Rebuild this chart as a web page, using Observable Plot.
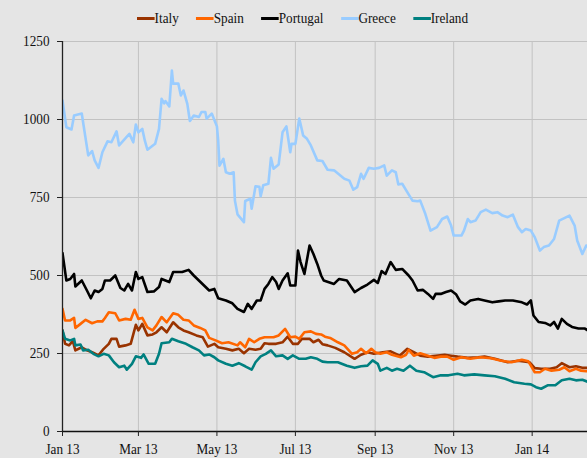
<!DOCTYPE html>
<html><head><meta charset="utf-8">
<script src="https://cdn.jsdelivr.net/npm/d3@7"></script>
<script src="https://cdn.jsdelivr.net/npm/@observablehq/plot@0.6"></script>
<style>
html,body{margin:0;padding:0;background:#e5e5e5;}
body{width:587px;height:458px;overflow:hidden;font-family:"Liberation Serif","Times New Roman",serif;}
#legendwrap{height:35px;position:relative;}
#legend{position:absolute;left:137px;top:0;height:36px;display:flex;align-items:center;gap:19.7px;font-size:15px;color:#111;transform:scaleX(0.88);transform-origin:0 0;white-space:nowrap;}
.item{display:flex;align-items:center;}
.sw{width:20px;height:3px;}
</style></head><body>
<div id="legendwrap"><div id="legend"></div></div>
<div id="chart"></div>
<script>
// Day offsets are days since 2013-01-01; values are spreads in basis points
const countries = ["Italy", "Spain", "Portugal", "Greece", "Ireland"];
const colors = ["#993300", "#ff6600", "#000000", "#99ccff", "#008080"];
const yTicks = [0, 250, 500, 750, 1000, 1250];
const xTickDates = ["2013-01-01","2013-03-01","2013-05-01","2013-07-01","2013-09-01","2013-11-01","2014-01-01"];
const xStart = "2013-01-01", xEnd = "2014-02-13";

const italy = [[0,324],[2,281],[5,276],[8,290],[10,260],[15,270],[19,260],[23,254],[28,244],[32,265],[36,281],[38,297],[42,297],[44,272],[49,276],[53,281],[57,342],[59,324],[62,345],[66,308],[70,311],[73,318],[77,334],[81,318],[86,350],[90,334],[94,324],[98,318],[104,308],[109,302],[113,272],[118,281],[121,270],[127,265],[132,260],[137,265],[141,251],[145,265],[150,262],[154,265],[157,283],[160,281],[166,281],[171,286],[175,304],[179,281],[183,281],[186,297],[192,297],[195,286],[199,294],[202,280],[206,276],[212,268],[219,254],[227,233],[232,246],[237,254],[242,249],[249,254],[255,257],[262,243],[268,265],[273,254],[278,243],[284,240],[290,243],[297,246],[302,243],[307,240],[315,236],[323,238],[328,240],[336,233],[346,222],[354,227],[363,222],[367,203],[372,201],[379,201],[384,206],[388,219],[394,206],[399,209],[404,204],[409,204]];
const spain = [[0,393],[2,356],[6,356],[9,364],[10,332],[14,345],[18,358],[23,347],[27,353],[31,353],[33,364],[36,382],[41,379],[44,356],[49,361],[53,358],[56,390],[59,361],[62,364],[66,334],[70,324],[73,340],[77,367],[81,350],[86,379],[90,374],[94,358],[98,356],[102,340],[107,332],[111,324],[114,300],[119,292],[124,283],[129,286],[136,276],[138,286],[142,270],[145,297],[149,286],[153,297],[157,302],[164,302],[168,308],[173,329],[177,302],[181,304],[184,297],[188,318],[193,321],[197,313],[201,311],[204,304],[208,300],[214,286],[219,276],[225,249],[229,254],[232,265],[236,251],[240,265],[243,254],[247,249],[252,254],[256,246],[263,238],[267,246],[269,262],[273,243],[278,251],[284,243],[289,236],[294,240],[299,240],[304,230],[310,238],[317,233],[325,238],[333,235],[341,227],[349,222],[357,230],[362,225],[364,211],[367,190],[371,190],[375,201],[380,195],[386,198],[390,206],[394,193],[399,201],[403,195],[407,193],[409,195]];
const portugal = [[0,572],[3,484],[6,489],[9,505],[10,465],[15,484],[19,452],[22,427],[25,452],[28,447],[31,457],[33,484],[37,484],[41,500],[45,460],[48,452],[51,473],[54,452],[57,511],[59,489],[62,495],[66,447],[71,449],[75,463],[77,489],[83,479],[86,511],[93,511],[98,518],[102,500],[106,484],[110,468],[114,452],[118,457],[121,427],[127,420],[132,411],[136,393],[141,383],[144,409],[147,393],[151,420],[154,420],[157,457],[160,473],[163,495],[166,479],[168,457],[171,484],[175,507],[177,468],[181,468],[183,580],[185,543],[188,505],[192,596],[195,569],[198,537],[201,500],[203,484],[211,473],[215,489],[221,484],[227,447],[232,460],[237,471],[242,486],[245,476],[248,514],[251,505],[255,543],[259,518],[264,521],[269,500],[272,484],[276,452],[280,454],[284,441],[288,425],[290,441],[294,441],[298,447],[302,452],[306,439],[309,417],[313,407],[317,420],[323,425],[328,420],[334,414],[339,417],[344,420],[350,420],[357,414],[361,407],[364,420],[366,372],[370,351],[375,348],[379,340],[382,351],[385,330],[388,361],[392,345],[396,335],[401,330],[406,330],[409,322]];
const greece = [[0,1061],[3,975],[7,968],[9,1013],[15,1019],[16,991],[20,885],[23,899],[25,869],[28,845],[31,895],[35,930],[38,927],[42,962],[44,917],[49,940],[52,954],[55,927],[57,984],[59,959],[62,970],[64,932],[66,903],[72,922],[75,970],[77,1066],[79,1052],[80,1059],[83,1042],[85,1157],[86,1115],[90,1115],[92,1077],[94,1093],[97,1050],[99,995],[102,1013],[106,1008],[108,1024],[111,1024],[112,1003],[116,1019],[120,978],[121,932],[122,852],[125,874],[127,831],[130,826],[133,831],[134,740],[136,696],[141,671],[142,739],[146,746],[147,714],[150,786],[153,784],[154,754],[156,789],[160,794],[162,877],[164,842],[168,856],[171,959],[174,978],[177,895],[178,922],[181,922],[184,1003],[187,949],[190,938],[193,917],[198,869],[202,867],[206,839],[211,837],[219,810],[223,804],[226,775],[229,783],[232,826],[234,810],[238,845],[242,842],[246,845],[250,853],[252,820],[256,837],[259,831],[261,792],[264,794],[269,760],[272,740],[276,738],[278,740],[282,697],[286,644],[291,655],[295,681],[299,689],[302,660],[304,628],[310,628],[312,644],[315,681],[317,671],[321,676],[325,703],[329,711],[334,700],[338,703],[342,692],[346,687],[350,695],[354,655],[357,639],[360,649],[364,644],[367,623],[371,580],[374,591],[378,596],[382,617],[386,676],[390,684],[394,692],[398,660],[400,612],[404,569],[407,596],[409,590]];
const ireland = [[0,324],[2,297],[6,292],[9,297],[10,276],[14,279],[16,260],[20,262],[24,249],[28,241],[32,249],[36,244],[40,222],[44,206],[48,211],[50,198],[54,217],[57,241],[61,236],[63,247],[67,217],[72,217],[75,249],[77,283],[83,286],[85,297],[90,289],[96,281],[101,270],[106,260],[110,244],[114,247],[118,238],[121,228],[127,217],[132,211],[137,219],[142,209],[147,198],[150,222],[154,241],[158,249],[162,260],[166,241],[171,244],[175,233],[179,244],[184,233],[189,233],[193,238],[198,233],[202,224],[206,222],[214,222],[221,211],[227,204],[232,209],[237,211],[241,228],[245,217],[247,195],[252,204],[256,195],[260,201],[265,195],[270,211],[275,195],[281,190],[288,174],[294,180],[300,180],[307,185],[312,180],[320,183],[328,180],[336,177],[344,169],[351,158],[359,153],[364,151],[368,142],[372,137],[377,148],[383,148],[388,164],[394,169],[399,164],[404,166],[409,158]];

const series = {Italy: italy, Spain: spain, Portugal: portugal, Greece: greece, Ireland: ireland};
const base = new Date(xStart + "T00:00:00Z");
const rows = [];
for (const c of countries) for (const [d, v] of series[c]) rows.push({country: c, date: d3.utcDay.offset(base, d), value: v});
const tickDates = xTickDates.map(s => new Date(s + "T00:00:00Z"));

const legend = document.getElementById("legend");
countries.forEach((c, i) => {
  const it = document.createElement("div"); it.className = "item";
  const sw = document.createElement("span"); sw.className = "sw"; sw.style.background = colors[i];
  const tx = document.createElement("span"); tx.textContent = c;
  it.appendChild(sw); it.appendChild(tx); legend.appendChild(it);
});

const serif = "Liberation Serif, Times New Roman, serif";
const chart = Plot.plot({
  width: 587, height: 423,
  marginTop: 6, marginBottom: 27, marginLeft: 62, marginRight: 0,
  style: {background: "transparent", fontSize: "15px", color: "#111", overflow: "visible"},
  x: {type: "utc", domain: [base, new Date(xEnd + "T00:00:00Z")]},
  y: {domain: [0, 1250]},
  color: {domain: countries, range: colors},
  marks: [
    Plot.gridX(tickDates, {stroke: "#c2c2c2", strokeOpacity: 1, strokeWidth: 1}),
    Plot.gridY(yTicks, {stroke: "#c2c2c2", strokeOpacity: 1, strokeWidth: 1}),
    Plot.line(rows, {x: "date", y: "value", z: "country", stroke: "country", strokeWidth: 2.6, clip: true, curve: "linear"}),
    Plot.ruleX([base], {y1: 0, y2: 1250, stroke: "#222", strokeWidth: 1.3}),
    Plot.ruleY([0], {stroke: "#111", strokeWidth: 1.3}),
    Plot.axisY(yTicks, {tickSize: 5, tickPadding: 8, label: null, stroke: "#222", fill: "#111", tickFormat: d => String(d), fontSize: 15}),
    Plot.axisX(tickDates, {tickSize: 5, tickPadding: 7, label: null, tickFormat: d3.utcFormat("%b %y"), stroke: "#222", fill: "#111", fontSize: 15})
  ]
});
chart.style.setProperty("font-family", serif, "important");
chart.querySelectorAll("g, text").forEach(t => {
  t.setAttribute("font-family", serif);
  t.style.setProperty("font-family", serif, "important");
});
document.getElementById("chart").appendChild(chart);
// the reference's lettering is horizontally condensed: narrow each label
chart.querySelectorAll("text").forEach(t => {
  const w = t.getComputedTextLength();
  if (w > 0) { t.setAttribute("textLength", (w * 0.88).toFixed(2)); t.setAttribute("lengthAdjust", "spacingAndGlyphs"); }
});
</script>
</body></html>
